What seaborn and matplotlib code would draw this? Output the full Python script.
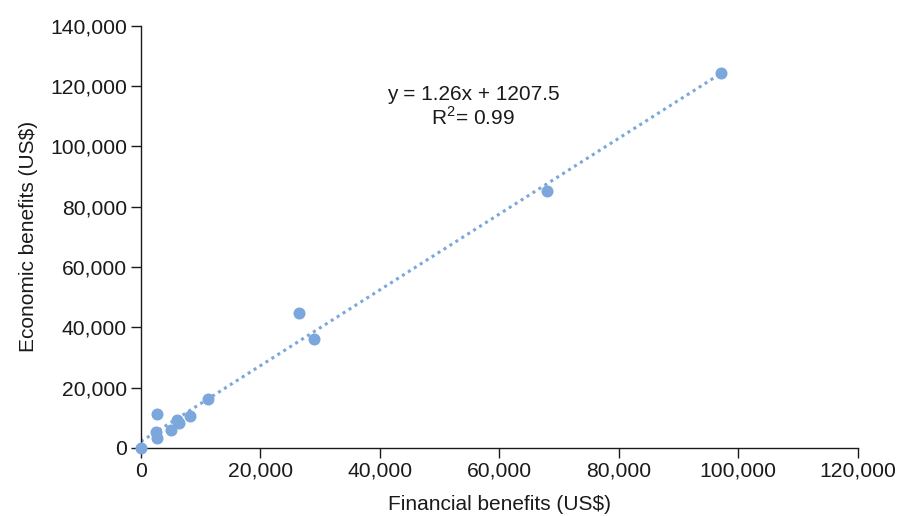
import matplotlib
matplotlib.use("Agg")
import matplotlib.pyplot as plt
import matplotlib.ticker as mticker
import numpy as np
import pandas as pd
import seaborn as sns

# financial vs economic benefits (US$)
financial = [0, 2700, 2500, 2700, 5000, 6000, 6300, 8200, 11200, 26400, 28900, 68000, 97200]
economic = [0, 11300, 5300, 3300, 6000, 9300, 8300, 10500, 16300, 44800, 36200, 85200, 124400]
x_ticks = [0, 20000, 40000, 60000, 80000, 100000, 120000]
y_ticks = [0, 20000, 40000, 60000, 80000, 100000, 120000, 140000]
eq_text = "y = 1.26x + 1207.5"
r2_text = "R$^2$= 0.99"

df = pd.DataFrame({"financial": financial, "economic": economic})

sns.set_style("ticks")
plt.rcParams["font.family"] = ["Liberation Sans", "DejaVu Sans"]
plt.rcParams["mathtext.fontset"] = "custom"
plt.rcParams["mathtext.rm"] = "Liberation Sans"

col = "#7ba7dc"
txt = "#1a1a1a"
fig = plt.figure(figsize=(8.98, 5.16), dpi=100)
ax = fig.add_axes([0.157, 0.132, 0.798, 0.818])

sns.regplot(data=df, x="financial", y="economic", ax=ax, ci=None,
            color=col, scatter_kws=dict(s=75, alpha=1, linewidths=0, zorder=3),
            line_kws=dict(ls=(0, (1, 1.3)), lw=2.2, color=col))

ax.set_xlim(0, 120000)
ax.set_ylim(0, 140000)
ax.set_xticks(x_ticks)
ax.set_yticks(y_ticks)
fmt = mticker.FuncFormatter(lambda v, p: f"{int(v):,}")
ax.xaxis.set_major_formatter(fmt)
ax.yaxis.set_major_formatter(fmt)
ax.tick_params(axis="both", length=7, width=1, colors=txt, labelsize=15.2, pad=3)
for s in ["left", "bottom"]:
    ax.spines[s].set_color(txt)
    ax.spines[s].set_linewidth(1)
sns.despine(ax=ax)
for c in ax.collections:
    c.set_clip_on(False)

ax.set_xlabel("Financial benefits (US$)", fontsize=15, color=txt, labelpad=10.5)
ax.set_ylabel("Economic benefits (US$)", fontsize=15, color=txt, labelpad=9)

ax.text(55600, 117300, eq_text, ha="center", va="center", fontsize=15, color=txt)
ax.text(55600, 109600, r2_text, ha="center", va="center", fontsize=15, color=txt)

fig.savefig("out.png", dpi=100)
